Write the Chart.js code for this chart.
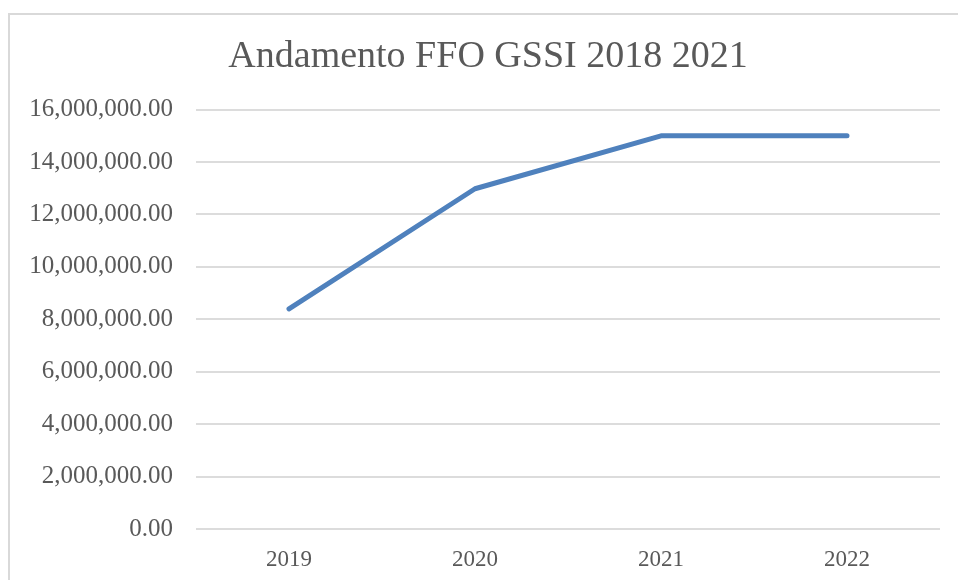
<!DOCTYPE html>
<html>
<head>
<meta charset="utf-8">
<script src="https://cdn.jsdelivr.net/npm/chart.js@4/dist/chart.umd.min.js"></script>
<style>
  html, body { margin: 0; padding: 0; background: #ffffff; }
  #wrap { position: relative; width: 958px; height: 580px; overflow: hidden; }
  #frame { position: absolute; left: 8px; top: 13px; width: 980px; height: 600px;
           border-left: 2px solid #d9d9d9; border-top: 2px solid #d9d9d9; box-sizing: border-box; }
  canvas { position: absolute; left: 0; top: 0; }
</style>
</head>
<body>
<div id="wrap">
  <div id="frame"></div>
  <canvas id="c" width="958" height="580"></canvas>
</div>
<script>
const chartTitle = "Andamento FFO GSSI 2018 2021";
const categories = ["2019", "2020", "2021", "2022"];
const ffoValues = [8400000, 12980000, 15000000, 15000000];
const yTickValues = [0, 2000000, 4000000, 6000000, 8000000, 10000000, 12000000, 14000000, 16000000];

const textColor = "#595959";
const serif = "'Liberation Serif', 'DejaVu Serif', serif";

new Chart(document.getElementById("c"), {
  type: "line",
  data: {
    labels: categories,
    datasets: [{
      label: "FFO",
      data: ffoValues,
      borderColor: "#4F81BD",
      borderWidth: 5,
      borderCapStyle: "round",
      borderJoinStyle: "round",
      pointRadius: 0,
      pointHoverRadius: 0,
      tension: 0,
      fill: false
    }]
  },
  options: {
    responsive: false,
    animation: false,
    events: [],
    layout: { padding: { left: 20, right: 2, top: 0, bottom: 0 } },
    plugins: {
      legend: { display: false },
      tooltip: { enabled: false },
      title: {
        display: true,
        text: chartTitle,
        color: textColor,
        font: { family: serif, size: 38, weight: "normal", lineHeight: 1.2 },
        padding: { top: 34, bottom: 30 }
      }
    },
    scales: {
      x: {
        offset: true,
        grid: { display: false, drawTicks: false },
        border: { display: false },
        ticks: {
          color: textColor,
          font: { family: serif, size: 23 },
          padding: 17,
          maxRotation: 0
        },
        afterFit(scale) { scale.height = 51; }
      },
      y: {
        min: 0,
        max: 16000000,
        afterBuildTicks(scale) { scale.ticks = yTickValues.map(v => ({ value: v })); },
        grid: { color: "#dcdcdc", lineWidth: 2, drawTicks: false },
        border: { display: false },
        ticks: {
          color: textColor,
          font: { family: serif, size: 25 },
          padding: 23,
          callback: v => Number(v).toLocaleString("en-US", { minimumFractionDigits: 2, maximumFractionDigits: 2 })
        },
        afterFit(scale) { scale.width = 176; }
      },
      yRightSpace: {
        position: "right",
        display: true,
        min: 0,
        max: 16000000,
        grid: { display: false, drawTicks: false },
        border: { display: false },
        ticks: { display: false },
        afterFit(scale) { scale.width = 16; }
      }
    }
  }
});
</script>
</body>
</html>
